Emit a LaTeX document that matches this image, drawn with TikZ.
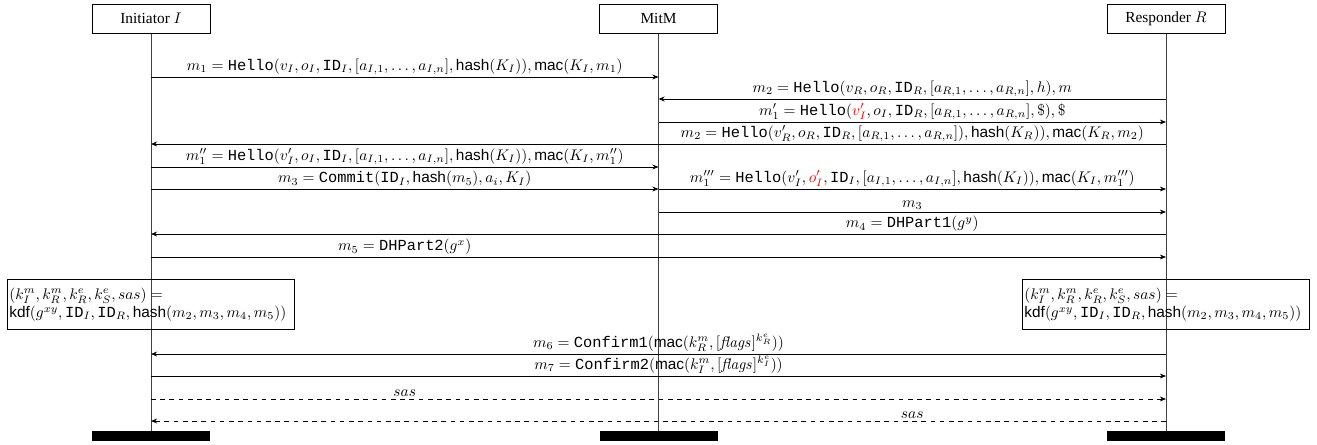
\documentclass[tikz,border=0pt]{standalone}
\usepackage[no-math]{fontspec}
\setmainfont{Liberation Serif}
\setsansfont{Liberation Sans}
\setmonofont{Liberation Mono}
\usetikzlibrary{arrows.meta}
\newcommand{\Hl}{\texttt{Hello}}
\newcommand{\IDf}{\texttt{ID}}
\newcommand{\hs}{\textsf{hash}}
\newcommand{\mc}{\textsf{mac}}
\begin{document}
\begin{tikzpicture}[x=0.65pt,y=-0.65pt,
  hdr/.style={draw,line width=0.6pt,minimum width=76.7pt,minimum height=18.9pt,inner sep=0pt},
  bar/.style={fill=black,draw=none,minimum width=76.7pt,minimum height=6.5pt,inner sep=0pt},
  life/.style={line width=0.6pt,black!75},
  msg/.style={line width=0.55pt,-{Stealth[length=4pt,width=3.2pt]}},
  lbl/.style={above,inner sep=1.2pt},
  kbox/.style={draw,line width=0.6pt,minimum width=187pt,minimum height=33pt,text width=184pt,align=left,inner sep=1.5pt}]
\useasboundingbox (0,0) rectangle (1317,444);
\node[hdr] (I) at (151,18.5) {Initiator $I$};
\node[hdr] (M) at (658.5,18.5) {MitM};
\node[hdr] (R) at (1166,18.5) {Responder $R$};
\node[bar] (Ib) at (151,436) {};
\node[bar] (Mb) at (658.5,436) {};
\node[bar] (Rb) at (1166,436) {};
\draw[life] (I.south) -- (Ib.north);
\draw[life] (M.south) -- (Mb.north);
\draw[life] (R.south) -- (Rb.north);
\foreach \n/\y in {1/77,2/99,3/122,4/144,5/167,6/189,7/212,8/234,9/257,10/354,11/376,12/399,13/421}{
  \coordinate (I\n) at (151,\y);
  \coordinate (M\n) at (658.5,\y);
  \coordinate (R\n) at (1166,\y);
}
\draw[msg] (I1) -- node[lbl]{$m_1 = \Hl(v_I, o_I, \IDf_I, [a_{I,1},\ldots,a_{I,n}], \hs(K_I)), \mc(K_I, m_1)$} (M1);
\draw[msg] (R2) -- node[lbl]{$m_2 = \Hl(v_R, o_R, \IDf_R, [a_{R,1},\ldots,a_{R,n}], h), m$} (M2);
\draw[msg] (M3) -- node[lbl]{$m_1' = \Hl(\textcolor{red}{v_I'}, o_I, \IDf_R, [a_{R,1},\ldots,a_{R,n}], \$), \$$} (R3);
\draw[msg] (R4) -- node[lbl,pos=0.25]{$m_2 = \Hl(v_R', o_R, \IDf_R, [a_{R,1},\ldots,a_{R,n}]), \hs(K_R)), \mc(K_R, m_2)$} (I4);
\draw[msg] (I5) -- node[lbl]{$m_1'' = \Hl(v_I', o_I, \IDf_I, [a_{I,1},\ldots,a_{I,n}], \hs(K_I)), \mc(K_I, m_1'')$} (M5);
\draw[msg] (I6) -- node[lbl]{$m_3 = \texttt{Commit}(\IDf_I, \hs(m_5), a_i, K_I)$} (M6);
\draw[msg] (M6) -- node[lbl]{$m_1''' = \Hl(v_I', \textcolor{red}{o_I'}, \IDf_I, [a_{I,1},\ldots,a_{I,n}], \hs(K_I)), \mc(K_I, m_1''')$} (R6);
\draw[msg] (M7) -- node[lbl]{$m_3$} (R7);
\draw[msg] (R8) -- node[lbl,pos=0.25]{$m_4 = \texttt{DHPart1}(g^y)$} (I8);
\draw[msg] (I9) -- node[lbl,pos=0.25]{$m_5 = \texttt{DHPart2}(g^x)$} (R9);
\node[kbox] (Ik) at (151,304.5) {$(k_I^m, k_R^m, k_R^e, k_S^e, sas) =$\\ $\textsf{kdf}(g^{xy}, \IDf_I, \IDf_R, \hs(m_2, m_3, m_4, m_5))$};
\node[kbox] (Rk) at (1166,304.5) {$(k_I^m, k_R^m, k_R^e, k_S^e, sas) =$\\ $\textsf{kdf}(g^{xy}, \IDf_I, \IDf_R, \hs(m_2, m_3, m_4, m_5))$};
\draw[msg] (R10) -- node[lbl]{$m_6 = \texttt{Confirm1}(\mc(k_R^m, [\mathit{flags}]^{k_R^e}))$} (I10);
\draw[msg] (I11) -- node[lbl]{$m_7 = \texttt{Confirm2}(\mc(k_I^m, [\mathit{flags}]^{k_I^e}))$} (R11);
\draw[msg,dashed] (I12) -- node[lbl,pos=0.25]{$sas$} (R12);
\draw[msg,dashed] (R13) -- node[lbl,pos=0.25]{$sas$} (I13);
\end{tikzpicture}
\end{document}
